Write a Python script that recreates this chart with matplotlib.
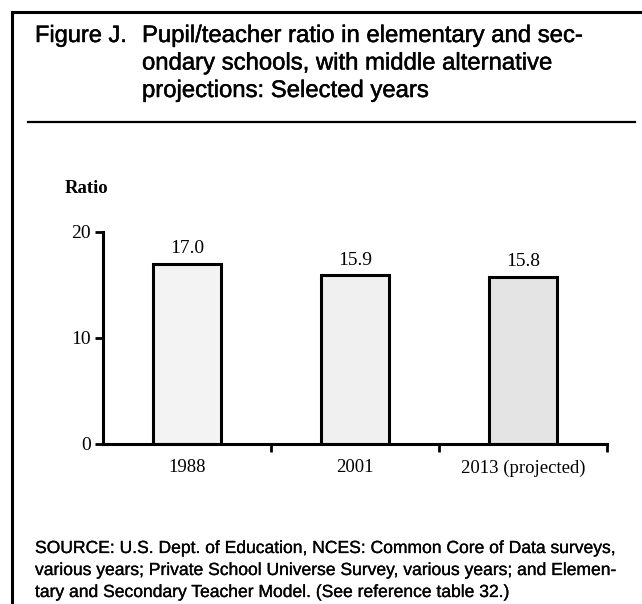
import matplotlib
matplotlib.use("Agg")
import matplotlib.pyplot as plt
from matplotlib.lines import Line2D
import matplotlib.patheffects as pe

categories = ["1988", "2001", "2013 (projected)"]
values = [17.0, 15.9, 15.8]
value_labels = ["17.0", "15.9", "15.8"]
yticks = [0, 10, 20]

W, H = 642, 604
fig = plt.figure(figsize=(W / 100, H / 100), dpi=100)
fig.patch.set_facecolor("white")

def fx(px):
    return px / W

def fy(py):
    return 1 - py / H

# Frame lines
fig.add_artist(Line2D([fx(12), fx(12)], [fy(12), fy(604)], color="black", lw=2.2))
fig.add_artist(Line2D([fx(12), fx(641)], [fy(12), fy(12)], color="black", lw=2.2))
fig.add_artist(Line2D([fx(28), fx(635)], [fy(122), fy(122)], color="black", lw=1.6))

sans = "Liberation Sans"
serif = "Liberation Serif"
thick = [pe.withStroke(linewidth=0.35, foreground="black")]
thin = [pe.withStroke(linewidth=0.2, foreground="black")]

# Title
fig.text(fx(35), fy(42), "Figure J.", fontsize=17, family=sans, va="baseline", ha="left",
         path_effects=thick)
title_lines = ["Pupil/teacher ratio in elementary and sec-",
               "ondary schools, with middle alternative",
               "projections: Selected years"]
for i, t in enumerate(title_lines):
    fig.text(fx(142), fy(42 + 27.5 * i), t, fontsize=17.2, family=sans, va="baseline", ha="left",
             path_effects=thick)

# Source
source_lines = ["SOURCE: U.S. Dept. of Education, NCES: Common Core of Data surveys,",
                "various years; Private School Universe Survey, various years; and Elemen-",
                "tary and Secondary Teacher Model. (See reference table 32.)"]
for i, t in enumerate(source_lines):
    fig.text(fx(35), fy(553 + 22 * i), t, fontsize=12.6, family=sans, va="baseline", ha="left",
             path_effects=thin)

# Axes
ax = fig.add_axes([fx(103), fy(444), fx(607) - fx(103), fy(232) - fy(444)])
x = list(range(len(categories)))
colors = ["#f3f3f3", "#f0f0f0", "#e4e4e4"]
ax.bar(x, values, width=0.4, color=colors, edgecolor="black", linewidth=2.2, zorder=2)
for xi, v, lab in zip(x, values, value_labels):
    ax.text(xi, v + 0.6, lab, ha="center", va="bottom", fontsize=14, family=serif)

ax.set_xlim(-0.5, 2.5)
ax.set_ylim(0, 20)
for s in ["top", "right"]:
    ax.spines[s].set_visible(False)
ax.spines["left"].set_linewidth(2.2)
ax.spines["bottom"].set_linewidth(2.2)
ax.set_yticks(yticks)
ax.set_yticklabels([str(t) for t in yticks], family=serif, fontsize=14)
ax.tick_params(axis="y", direction="out", length=6, width=2, pad=3)
ax.set_xticks(x)
ax.set_xticklabels(categories, family=serif, fontsize=13.5)
ax.tick_params(axis="x", which="major", length=0, pad=11)
ax.set_xticks([0.5, 1.5, 2.5], minor=True)
ax.tick_params(axis="x", which="minor", direction="out", length=6, width=2)
ax.patch.set_alpha(0)

fig.text(fx(65), fy(193), "Ratio", fontsize=13.5, family=serif, weight="bold", va="baseline", ha="left")

fig.savefig("out.png", dpi=100, facecolor="white")
